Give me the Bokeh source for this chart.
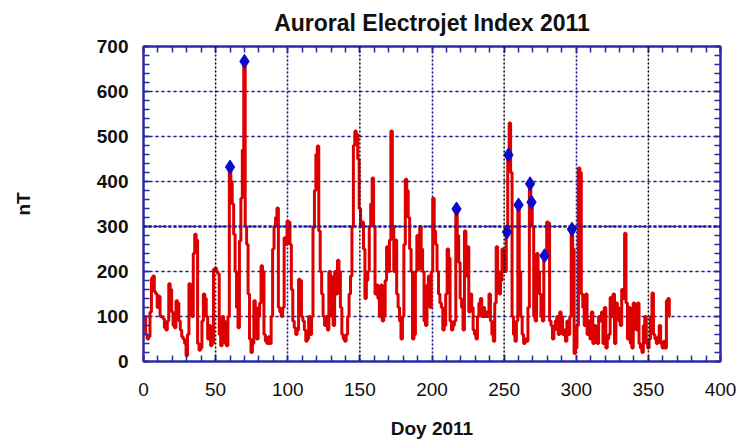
from bokeh.plotting import figure
from bokeh.models import (LinearAxis, SingleIntervalTicker, FixedTicker, Span, Range1d,
                          Grid, CustomJSTickFormatter)
from bokeh.embed import file_html
from bokeh.resources import INLINE

# ---- data ----
days = list(range(1, 366))
ae = [
    100, 60, 50, 55, 110, 185, 190, 155, 150, 120,
    145, 100, 100, 95, 75, 70, 90, 173, 160, 110,
    80, 75, 135, 130, 90, 70, 55, 50, 40, 13,
    60, 173, 165, 100, 240, 283, 270, 40, 25, 30,
    90, 150, 140, 100, 50, 80, 35, 40, 205, 208,
    200, 195, 60, 35, 100, 90, 40, 35, 100, 432,
    400, 350, 283, 200, 120, 75, 268, 363, 470, 667,
    300, 260, 150, 50, 20, 40, 135, 120, 50, 100,
    130, 213, 200, 60, 45, 40, 55, 40, 100, 250,
    300, 320, 341, 120, 110, 100, 120, 275, 260, 312,
    310, 260, 160, 90, 75, 60, 70, 183, 180, 100,
    90, 70, 45, 50, 100, 60, 100, 297, 380, 460,
    479, 290, 200, 150, 100, 80, 100, 70, 200, 190,
    100, 80, 200, 150, 225, 200, 120, 60, 50, 45,
    60, 100, 150, 190, 300, 480, 512, 505, 450, 340,
    300, 310, 250, 140, 180, 200, 300, 350, 408, 300,
    150, 170, 140, 100, 170, 90, 100, 180, 255, 200,
    270, 512, 300, 200, 270, 150, 120, 90, 50, 100,
    260, 405, 380, 320, 250, 200, 50, 60, 200, 280,
    205, 300, 250, 200, 90, 80, 170, 190, 120, 200,
    363, 290, 260, 200, 150, 130, 120, 70, 80, 150,
    250, 230, 90, 70, 80, 90, 339, 280, 220, 140,
    120, 70, 290, 190, 255, 110, 150, 120, 70, 60,
    50, 100, 130, 140, 100, 120, 100, 110, 100, 150,
    90, 60, 45, 130, 255, 200, 150, 180, 250, 200,
    200, 288, 459, 530, 420, 100, 60, 45, 90, 348,
    200, 100, 60, 40, 50, 45, 120, 395, 354, 300,
    100, 90, 240, 200, 150, 100, 90, 235, 230, 310,
    308, 90, 80, 50, 70, 90, 100, 60, 110, 100,
    60, 70, 45, 90, 60, 100, 294, 250, 18, 30,
    80, 430, 420, 150, 120, 80, 150, 60, 90, 50,
    110, 40, 80, 50, 40, 100, 90, 110, 40, 120,
    30, 50, 60, 142, 100, 150, 40, 130, 120, 90,
    80, 160, 140, 285, 130, 50, 120, 40, 30, 130,
    100, 70, 130, 40, 30, 20, 80, 100, 40, 30,
    50, 100, 152, 60, 50, 40, 55, 80, 40, 30,
    45, 30, 135, 140, 100,
]
peak_days = [60, 70, 217, 252, 253, 260, 268, 269, 278, 297]
peak_vals = [432, 667, 339, 288, 459, 348, 395, 354, 235, 294]
black_grid_x = [50, 150, 250, 350]
blue_grid_x = [100, 200, 300]

title_text = "Auroral Electrojet Index 2011"
x_label = "Doy 2011"
y_label = "nT"

AX = "#2a2aa6"
FONT = "Liberation Sans"

p = figure(width=739, height=441, output_backend="svg", toolbar_location=None,
           x_range=Range1d(0, 400), y_range=Range1d(0, 700),
           x_axis_location=None, y_axis_location=None,
           min_border_left=143, min_border_right=19, min_border_top=45, min_border_bottom=80)
p.background_fill_color = "white"
p.border_fill_color = "white"
p.outline_line_color = AX
p.outline_line_width = 2

p.title.text = title_text
p.title.align = "center"
p.title.vertical_align = "top"
p.title.text_font = FONT
p.title.text_font_size = "23px"
p.title.text_font_style = "bold"
p.title.text_color = "#111111"
p.title.standoff = 18

xt = SingleIntervalTicker(interval=50, num_minor_ticks=5)
yt = SingleIntervalTicker(interval=100, num_minor_ticks=5)


def style(ax):
    ax.axis_line_color = AX
    ax.axis_line_width = 2
    ax.major_tick_line_color = AX
    ax.minor_tick_line_color = AX
    ax.major_tick_line_width = 1.5
    ax.minor_tick_line_width = 1.5
    ax.major_tick_in = 6
    ax.major_tick_out = 0
    ax.minor_tick_in = 6
    ax.minor_tick_out = 0


xb = LinearAxis(ticker=xt, axis_label=x_label)
style(xb)
xb.major_label_text_font = FONT
xb.major_label_text_font_size = "19px"
xb.major_label_text_color = "#111111"
xb.major_label_standoff = 21
xb.axis_label_text_font = FONT
xb.axis_label_text_font_size = "19px"
xb.axis_label_text_font_style = "bold"
xb.axis_label_text_color = "#111111"
xb.axis_label_standoff = 19
p.add_layout(xb, "below")

yl = LinearAxis(ticker=yt, axis_label=y_label)
style(yl)
yl.major_label_text_font = FONT
yl.major_label_text_font_size = "19px"
yl.major_label_text_font_style = "bold"
yl.major_label_text_color = "#111111"
yl.major_label_standoff = 15
yl.axis_label_text_font = FONT
yl.axis_label_text_font_size = "19px"
yl.axis_label_text_font_style = "bold"
yl.axis_label_text_color = "#111111"
yl.axis_label_standoff = 60
p.add_layout(yl, "left")

blank = CustomJSTickFormatter(code="return '';")
xa = LinearAxis(ticker=xt, formatter=blank, major_label_standoff=0)
style(xa)
p.add_layout(xa, "above")
yr = LinearAxis(ticker=yt, formatter=blank, major_label_standoff=0)
style(yr)
p.add_layout(yr, "right")

# grids
gy = Grid(dimension=1, ticker=yt, grid_line_color="#1c1c9c", grid_line_width=1.6,
          grid_line_dash="3 3")
gx = Grid(dimension=0, ticker=FixedTicker(ticks=blue_grid_x), grid_line_color="#1c1c9c",
          grid_line_width=1.6, grid_line_dash="2 2")
p.add_layout(gy)
p.add_layout(gx)
for v in black_grid_x:
    p.add_layout(Span(location=v, dimension="height", line_color="#111111",
                      line_width=1.5, line_dash="2 2"))
p.add_layout(Span(location=300, dimension="width", line_color="#1c1c9c",
                  line_width=2.6, line_dash="3 2"))

p.step(days, ae, mode="center", line_color="#dd0000", line_width=3)
p.scatter(peak_days, peak_vals, marker="diamond", size=14, fill_color="#0a0acc",
          line_color="#0a0acc")

open("out.html", "w").write(file_html(p, INLINE))
